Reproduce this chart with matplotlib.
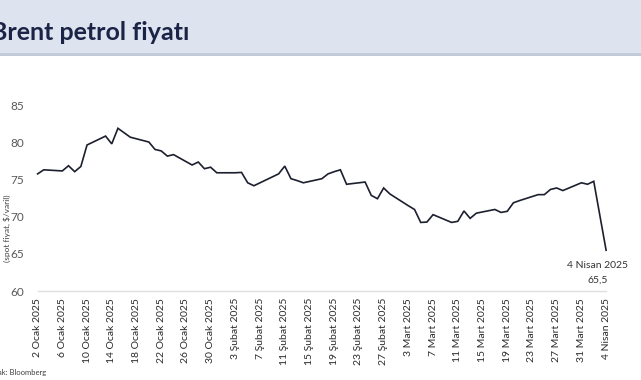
import matplotlib
matplotlib.use("Agg")
import matplotlib.pyplot as plt
import matplotlib.dates as mdates
import numpy as np
from datetime import date, timedelta

plt.rcParams['font.family'] = ['Lato', 'DejaVu Sans']

# Data (Brent, $/barrel)
dates = [
    "2025-01-02", "2025-01-03", "2025-01-06", "2025-01-07", "2025-01-08", "2025-01-09",
    "2025-01-10", "2025-01-13", "2025-01-14", "2025-01-15", "2025-01-16", "2025-01-17",
    "2025-01-20", "2025-01-21", "2025-01-22", "2025-01-23", "2025-01-24", "2025-01-27",
    "2025-01-28", "2025-01-29", "2025-01-30", "2025-01-31", "2025-02-03", "2025-02-04",
    "2025-02-05", "2025-02-06", "2025-02-07", "2025-02-10", "2025-02-11", "2025-02-12",
    "2025-02-13", "2025-02-14", "2025-02-17", "2025-02-18", "2025-02-19", "2025-02-20",
    "2025-02-21", "2025-02-24", "2025-02-25", "2025-02-26", "2025-02-27", "2025-02-28",
    "2025-03-03", "2025-03-04", "2025-03-05", "2025-03-06", "2025-03-07", "2025-03-10",
    "2025-03-11", "2025-03-12", "2025-03-13", "2025-03-14", "2025-03-17", "2025-03-18",
    "2025-03-19", "2025-03-20", "2025-03-21", "2025-03-24", "2025-03-25", "2025-03-26",
    "2025-03-27", "2025-03-28", "2025-03-31", "2025-04-01", "2025-04-02", "2025-04-04",
]
prices = [
    75.8, 76.35, 76.2, 76.9, 76.1, 76.8,
    79.7, 80.9, 79.85, 81.95, 81.35, 80.75,
    80.1, 79.1, 78.9, 78.2, 78.4, 77.0,
    77.4, 76.5, 76.7, 75.95, 75.95, 76.0,
    74.6, 74.2, 74.6, 75.8, 76.85, 75.15,
    74.9, 74.6, 75.15, 75.8, 76.1, 76.35,
    74.4, 74.7, 72.9, 72.45, 73.9, 73.1,
    71.5, 71.0, 69.25, 69.3, 70.3, 69.25,
    69.4, 70.8, 69.8, 70.5, 71.0, 70.6,
    70.75, 71.9, 72.2, 73.0, 73.0, 73.7,
    73.9, 73.55, 74.6, 74.4, 74.8, 65.5,
]
title = "Brent petrol fiyatı"
y_label = "(spot fiyat, $/varil)"
source = "Kaynak: Bloomberg"
last_label = "4 Nisan 2025\n65,5"
months_tr = {1: "Ocak", 2: "Şubat", 3: "Mart", 4: "Nisan"}
y_ticks = [60, 65, 70, 75, 80, 85]

x = [date.fromisoformat(d) for d in dates]

W, H = 641, 380
fig = plt.figure(figsize=(W / 100, H / 100), dpi=100)
fig.patch.set_facecolor("white")

# Banner
fig.patches.append(plt.Rectangle((0, 1 - 53 / H), 1, 53 / H, transform=fig.transFigure,
                                 facecolor="#dde4ef", edgecolor="none", zorder=0))
fig.patches.append(plt.Rectangle((0, 1 - 56 / H), 1, 3 / H, transform=fig.transFigure,
                                 facecolor="#c3cad8", edgecolor="none", zorder=0))
fig.text(-9 / W, 1 - 33 / H, title, fontsize=18, fontweight="bold", color="#1b2447",
         va="center", ha="left")

ax = fig.add_axes([37.6 / W, (H - 291) / H, 568.5 / W, 185.3 / H])
ax.plot(x, prices, color="#1c1f2e", lw=1.2, solid_joinstyle="miter", clip_on=False)

start = date(2025, 1, 2)
ax.set_xlim(mdates.date2num(start - timedelta(hours=12)),
            mdates.date2num(date(2025, 4, 4) + timedelta(hours=12)))
ax.set_ylim(60, 85)

tick_dates = [start + timedelta(days=4 * i) for i in range(24)]
ax.set_xticks(mdates.date2num(tick_dates))
ax.set_xticklabels([f"{d.day} {months_tr[d.month]} 2025" for d in tick_dates],
                   rotation=90, fontsize=7.5, color="#2b2b2b")
ax.set_yticks(y_ticks)
ax.set_yticklabels([str(v) for v in y_ticks], fontsize=8.5, color="#595959")
ax.tick_params(axis="both", length=0)
ax.tick_params(axis="y", pad=10)
ax.tick_params(axis="x", pad=5)

for s in ["top", "right", "left"]:
    ax.spines[s].set_visible(False)
ax.spines["bottom"].set_color("#e0e0e0")
ax.spines["bottom"].set_linewidth(1.0)

ax.annotate(last_label, xy=(mdates.date2num(x[-1]), prices[-1]), xytext=(-6, -8),
            textcoords="offset points", ha="center", va="top", fontsize=7.5,
            color="#333333", linespacing=1.8)

fig.text(3 / W, 1 - 228 / H, y_label, rotation=90, fontsize=6, color="#404040",
         ha="left", va="center")
fig.text(-19 / W, 1 - 372 / H, source, fontsize=5.5, color="#404040", ha="left", va="center")

fig.savefig("out.png", dpi=100)
